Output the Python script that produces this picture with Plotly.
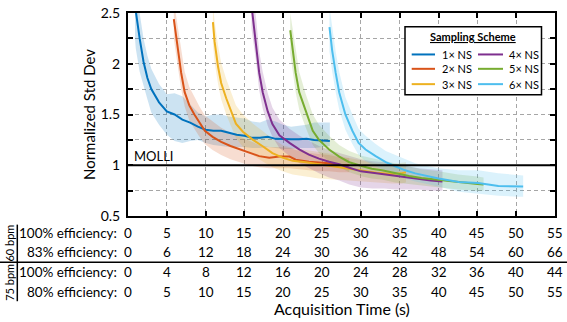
import plotly.graph_objects as go

# ---------------- data ----------------
SERIES_NAMES = ["1× NS", "2× NS", "3× NS", "4× NS", "5× NS", "6× NS"]
SERIES_COLORS = ["#0072BD", "#D95319", "#EDB120", "#7E2F8E", "#77AC30", "#4DBEEE"]

t_1x = [0.9, 1.0, 1.5, 2.0, 2.5, 3.0, 4.0, 5.0, 6.0, 7.0, 8.0, 9.0, 10.0, 11.0, 12.0, 13.0,
        14.0, 15.0, 16.0, 17.0, 18.0, 19.0, 20.0, 21.0, 22.0, 23.0, 24.0, 25.0, 26.0]
m_1x = [2.60, 2.52, 2.25, 2.02, 1.86, 1.75, 1.62, 1.53, 1.50, 1.45, 1.42, 1.38, 1.35, 1.34, 1.34, 1.32,
        1.30, 1.29, 1.27, 1.27, 1.28, 1.26, 1.255, 1.255, 1.255, 1.26, 1.25, 1.245, 1.24]
lo_1x = [2.25, 2.15, 1.92, 1.78, 1.65, 1.52, 1.40, 1.30, 1.24, 1.22, 1.24, 1.25, 1.22, 1.20, 1.19, 1.18,
         1.18, 1.18, 1.17, 1.17, 1.18, 1.17, 1.16, 1.16, 1.17, 1.17, 1.17, 1.18, 1.19]
hi_1x = [2.80, 2.70, 2.50, 2.25, 2.08, 1.95, 1.80, 1.70, 1.71, 1.68, 1.60, 1.52, 1.48, 1.50, 1.50, 1.48,
         1.47, 1.46, 1.43, 1.42, 1.45, 1.43, 1.40, 1.38, 1.39, 1.40, 1.42, 1.42, 1.42]

t_2x = [5.9, 6.4, 6.85, 7.3, 7.9, 8.55, 9.2, 9.9, 10.9, 12.0, 13.2, 14.4, 15.6, 16.9, 18.2, 19.5,
        20.8, 21.6, 23.3, 24.6, 25.9, 27.2, 28.5]
m_2x = [2.44, 2.16, 1.91, 1.72, 1.59, 1.50, 1.42, 1.34, 1.28, 1.23, 1.19, 1.155, 1.12, 1.09, 1.075, 1.085,
        1.085, 1.055, 1.035, 1.03, 1.02, 1.005, 1.00]
lo_2x = [2.25, 1.98, 1.75, 1.58, 1.44, 1.36, 1.28, 1.21, 1.15, 1.10, 1.06, 1.03, 1.00, 0.98, 0.97, 0.97,
         0.97, 0.96, 0.95, 0.94, 0.94, 0.93, 0.93]
hi_2x = [2.62, 2.36, 2.12, 1.92, 1.77, 1.67, 1.58, 1.49, 1.43, 1.37, 1.32, 1.28, 1.24, 1.20, 1.18, 1.18,
         1.17, 1.15, 1.12, 1.11, 1.10, 1.08, 1.07]

t_3x = [10.94, 11.15, 11.6, 12.0, 12.65, 13.3, 13.9, 14.8, 16.1, 17.3, 18.6, 19.9, 21.2, 22.9, 24.6,
        26.3, 28.0, 30.0, 32.0, 34.0, 35.2, 35.8]
m_3x = [2.41, 2.22, 1.97, 1.81, 1.66, 1.53, 1.41, 1.33, 1.25, 1.19, 1.12, 1.075, 1.045, 1.03, 1.01,
        0.995, 0.97, 0.945, 0.925, 0.915, 0.92, 0.93]
lo_3x = [2.20, 2.02, 1.80, 1.65, 1.50, 1.38, 1.27, 1.18, 1.10, 1.04, 0.98, 0.94, 0.91, 0.89, 0.87,
         0.86, 0.85, 0.84, 0.83, 0.82, 0.82, 0.83]
hi_3x = [2.58, 2.42, 2.18, 2.01, 1.85, 1.71, 1.59, 1.50, 1.41, 1.34, 1.26, 1.20, 1.17, 1.15, 1.13,
         1.11, 1.08, 1.05, 1.02, 1.01, 1.02, 1.03]

t_4x = [15.9, 16.1, 16.5, 16.9, 17.35, 18.0, 18.6, 19.5, 20.8, 22.1, 23.3, 24.6, 25.9, 27.2, 28.5,
        30.0, 31.5, 33.0, 34.5, 36.0, 37.5, 39.0, 40.5]
m_4x = [2.58, 2.45, 2.22, 1.91, 1.72, 1.53, 1.405, 1.295, 1.22, 1.155, 1.105, 1.065, 1.035, 1.01, 0.975,
        0.94, 0.925, 0.91, 0.89, 0.875, 0.86, 0.85, 0.84]
lo_4x = [2.35, 2.22, 2.02, 1.74, 1.56, 1.39, 1.28, 1.17, 1.09, 1.02, 0.97, 0.92, 0.88, 0.85, 0.81,
         0.78, 0.77, 0.77, 0.76, 0.76, 0.76, 0.75, 0.75]
hi_4x = [2.80, 2.68, 2.45, 2.12, 1.92, 1.71, 1.57, 1.45, 1.36, 1.29, 1.24, 1.19, 1.15, 1.12, 1.09,
         1.06, 1.04, 1.03, 1.01, 0.99, 0.97, 0.96, 0.95]

t_5x = [20.9, 21.2, 21.6, 22.05, 22.9, 23.8, 24.6, 25.9, 27.2, 28.5, 30.2, 31.4, 32.7, 34.4, 36.2,
        37.8, 40.0, 42.5, 45.0, 45.8]
m_5x = [2.33, 2.13, 1.91, 1.72, 1.53, 1.34, 1.25, 1.155, 1.085, 1.03, 0.99, 0.965, 0.95, 0.92, 0.895,
        0.875, 0.855, 0.835, 0.815, 0.81]
lo_5x = [2.10, 1.92, 1.72, 1.55, 1.37, 1.20, 1.12, 1.04, 0.98, 0.93, 0.89, 0.87, 0.86, 0.83, 0.81,
         0.80, 0.78, 0.76, 0.75, 0.75]
hi_5x = [2.50, 2.35, 2.12, 1.92, 1.70, 1.50, 1.40, 1.29, 1.20, 1.14, 1.09, 1.07, 1.05, 1.02, 0.99,
         0.96, 0.94, 0.91, 0.89, 0.88]

t_6x = [25.95, 26.3, 26.75, 27.2, 28.0, 28.9, 29.7, 30.6, 31.9, 33.2, 34.4, 35.7, 37.0, 38.7, 40.0,
        42.6, 45.1, 47.7, 50.3, 50.9]
m_6x = [2.36, 2.13, 1.91, 1.72, 1.50, 1.34, 1.22, 1.155, 1.09, 1.03, 0.99, 0.95, 0.92, 0.89, 0.87,
        0.835, 0.825, 0.795, 0.79, 0.79]
lo_6x = [2.12, 1.92, 1.72, 1.55, 1.35, 1.21, 1.10, 1.04, 0.99, 0.94, 0.90, 0.87, 0.84, 0.81, 0.79,
         0.74, 0.72, 0.70, 0.69, 0.69]
hi_6x = [2.56, 2.36, 2.12, 1.92, 1.67, 1.50, 1.36, 1.29, 1.21, 1.14, 1.10, 1.06, 1.02, 0.99, 0.97,
         0.95, 0.95, 0.92, 0.90, 0.90]

MOLLI_LEVEL = 1.0

# bottom table
TICK_TIMES = [0, 5, 10, 15, 20, 25, 30, 35, 40, 45, 50, 55]
ROW_LABELS = ["100% efficiency:", "83% efficiency:", "100% efficiency:", "80% efficiency:"]
ROW_60_100 = [0, 5, 10, 15, 20, 25, 30, 35, 40, 45, 50, 55]
ROW_60_83 = [0, 6, 12, 18, 24, 30, 36, 42, 48, 54, 60, 66]
ROW_75_100 = [0, 4, 8, 12, 16, 20, 24, 28, 32, 36, 40, 44]
ROW_75_80 = [0, 5, 10, 15, 20, 25, 30, 35, 40, 45, 50, 55]
GROUP_LABELS = ["60 bpm", "75 bpm"]

Y_TICKS = [0.5, 0.75, 1.0, 1.25, 1.5, 1.75, 2.0, 2.25, 2.5]
Y_TICKTEXT = ["0.5", "", "1", "", "1.5", "", "2", "", "2.5"]

# ---------------- figure ----------------
FONT = "Lato"
W, H = 567, 322
ML, MR, MT, MB = 128, 12, 4, 106
PW, PH = W - ML - MR, H - MT - MB


def px2paper_x(px):
    return (px - ML) / PW


def px2paper_y(py):
    return (H - MB - py) / PH


def rgba(hex_color, a):
    h = hex_color.lstrip("#")
    r, g, b = int(h[0:2], 16), int(h[2:4], 16), int(h[4:6], 16)
    return f"rgba({r},{g},{b},{a})"


series = [
    (t_1x, m_1x, lo_1x, hi_1x),
    (t_2x, m_2x, lo_2x, hi_2x),
    (t_3x, m_3x, lo_3x, hi_3x),
    (t_4x, m_4x, lo_4x, hi_4x),
    (t_5x, m_5x, lo_5x, hi_5x),
    (t_6x, m_6x, lo_6x, hi_6x),
]

fig = go.Figure()

for (t, m, lo, hi), name, col in zip(series, SERIES_NAMES, SERIES_COLORS):
    fig.add_trace(go.Scatter(
        x=list(t) + list(t)[::-1], y=list(hi) + list(lo)[::-1],
        fill="toself", fillcolor=rgba(col, 0.2), line=dict(width=0),
        mode="lines", hoverinfo="skip", showlegend=False))

for (t, m, lo, hi), name, col in zip(series, SERIES_NAMES, SERIES_COLORS):
    fig.add_trace(go.Scatter(x=t, y=m, mode="lines", name=name,
                             line=dict(color=col, width=2), showlegend=False))

# MOLLI reference line
fig.add_shape(type="line", xref="paper", x0=0, x1=1, yref="y", y0=MOLLI_LEVEL, y1=MOLLI_LEVEL,
              line=dict(color="black", width=2), layer="above")
fig.add_annotation(x=0, xref="paper", xshift=4, y=MOLLI_LEVEL, yref="y", yshift=9,
                   text="MOLLI", showarrow=False, xanchor="left", yanchor="middle",
                   font=dict(family=FONT, size=13, color="black"))

# ---------------- manual legend ----------------
bx0, bx1 = px2paper_x(405), px2paper_x(541.5)
by0, by1 = px2paper_y(89.3), px2paper_y(18.3)
fig.add_shape(type="rect", xref="paper", yref="paper", x0=bx0, x1=bx1, y0=by0, y1=by1,
              line=dict(color="black", width=1.5), fillcolor="white", layer="above")
fig.add_annotation(x=px2paper_x(472.8), y=px2paper_y(28.3), xref="paper", yref="paper",
                   text="<b><u>Sampling Scheme</u></b>", showarrow=False,
                   xanchor="center", yanchor="middle",
                   font=dict(family=FONT, size=11, color="black"))
row_py = [47.3, 62.3, 78.3]
col_line = [(411.7, 435.0, 440.0), (478.0, 503.0, 506.5)]
for i, (name, col) in enumerate(zip(SERIES_NAMES, SERIES_COLORS)):
    c = i // 3
    r = i % 3
    lx0, lx1, tx = col_line[c]
    yy = px2paper_y(row_py[r])
    fig.add_shape(type="line", xref="paper", yref="paper", x0=px2paper_x(lx0), x1=px2paper_x(lx1),
                  y0=yy, y1=yy, line=dict(color=col, width=2), layer="above")
    fig.add_annotation(x=px2paper_x(tx), y=yy, xref="paper", yref="paper", text=name,
                       showarrow=False, xanchor="left", yanchor="middle",
                       font=dict(family=FONT, size=11, color="black"))

# ---------------- bottom table ----------------
rows = [ROW_60_100, ROW_60_83, ROW_75_100, ROW_75_80]
rows_py = [233.3, 254.0, 275.0, 295.7]
for label, vals, py in zip(ROW_LABELS, rows, rows_py):
    yy = px2paper_y(py)
    fig.add_annotation(x=0, xref="x", xshift=-9, y=yy, yref="paper", text=label,
                       showarrow=False, xanchor="right", yanchor="middle",
                       font=dict(family=FONT, size=13.5, color="black"))
    for tt, v in zip(TICK_TIMES, vals):
        fig.add_annotation(x=tt, xref="x", y=yy, yref="paper", text=str(v),
                           showarrow=False, xanchor="center", yanchor="middle",
                           font=dict(family=FONT, size=13.5, color="black"))

for g, py in zip(GROUP_LABELS, [244.5, 285.5]):
    fig.add_annotation(x=px2paper_x(9.3), y=px2paper_y(py), xref="paper", yref="paper",
                       text=g, textangle=-90, showarrow=False,
                       xanchor="center", yanchor="middle",
                       font=dict(family=FONT, size=11, color="black"))

fig.add_shape(type="line", xref="paper", yref="paper", x0=px2paper_x(0), x1=px2paper_x(567),
              y0=px2paper_y(264.3), y1=px2paper_y(264.3), line=dict(color="black", width=1.5))
fig.add_shape(type="line", xref="paper", yref="paper", x0=px2paper_x(17.3), x1=px2paper_x(17.3),
              y0=px2paper_y(225), y1=px2paper_y(305), line=dict(color="black", width=1.5))

fig.add_annotation(x=0.5, xref="paper", y=px2paper_y(313), yref="paper",
                   text="Acquisition Time (s)", showarrow=False,
                   xanchor="center", yanchor="middle",
                   font=dict(family=FONT, size=16, color="black"))

fig.update_layout(
    width=W, height=H,
    margin=dict(l=ML, r=MR, t=MT, b=MB, pad=0),
    paper_bgcolor="white", plot_bgcolor="white",
    font=dict(family=FONT, size=13, color="black"),
    showlegend=False,
    xaxis=dict(range=[0, 55], tickvals=TICK_TIMES, showticklabels=False,
               ticks="inside", ticklen=5, tickwidth=1.5, tickcolor="black",
               showline=True, linecolor="black", linewidth=2, mirror="ticks",
               showgrid=True, gridcolor="#a6a6a6", gridwidth=1, griddash="4px,3px",
               zeroline=False),
    yaxis=dict(range=[0.5, 2.5], tickvals=Y_TICKS, ticktext=Y_TICKTEXT,
               ticks="inside", ticklen=5, tickwidth=1.5, tickcolor="black",
               showline=True, linecolor="black", linewidth=2, mirror="ticks",
               showgrid=True, gridcolor="#a6a6a6", gridwidth=1, griddash="4px,3px",
               zeroline=False, ticklabelstandoff=3, ticklabeloverflow="allow",
               tickfont=dict(family=FONT, size=14, color="black"),
               title=dict(text="Normalized Std Dev", standoff=1,
                          font=dict(family=FONT, size=15, color="black"))),
)

fig.write_html("out.html", config={"displayModeBar": False},
               post_script="document.body.style.margin='0';document.body.style.overflow='hidden';")
